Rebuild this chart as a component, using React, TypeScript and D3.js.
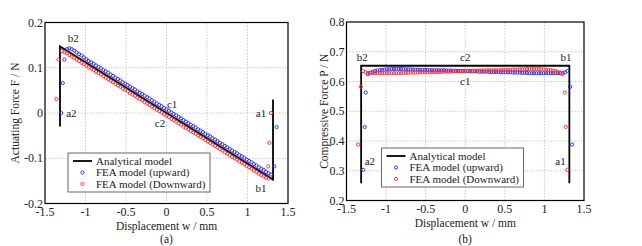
import * as d3 from "d3";

type Pt = [number, number];

// axis ticks
const dispTicks = [-1.5, -1, -0.5, 0, 0.5, 1, 1.5];
const forceTicks = [-0.2, -0.1, 0, 0.1, 0.2];
const compTicks = [0.2, 0.3, 0.4, 0.5, 0.6, 0.7, 0.8];

const legendNames = ["Analytical model", "FEA model (upward)", "FEA model (Downward)"];

// (a) actuating force F vs displacement w
const analyticalF: Pt[] = [[-1.315, -0.03], [-1.315, 0.147], [1.315, -0.147], [1.315, 0.03]];

const upwardF: Pt[] = [
  [-1.3, 0], [-1.28, 0.066], [-1.26, 0.118],
  [-1.23, 0.141], [-1.2, 0.143], [-1.17, 0.141], [-1.14, 0.138], [-1.11, 0.134], [-1.08, 0.13],
  [-1.05, 0.127], [-1.02, 0.123], [-0.99, 0.119], [-0.96, 0.115], [-0.93, 0.112], [-0.9, 0.109],
  [-0.87, 0.105], [-0.84, 0.102], [-0.81, 0.099], [-0.78, 0.095], [-0.75, 0.092], [-0.72, 0.089],
  [-0.69, 0.085], [-0.66, 0.082], [-0.63, 0.078], [-0.6, 0.075], [-0.57, 0.072], [-0.54, 0.068],
  [-0.51, 0.065], [-0.48, 0.062], [-0.45, 0.058], [-0.42, 0.055], [-0.39, 0.052], [-0.36, 0.048],
  [-0.33, 0.045], [-0.3, 0.042], [-0.27, 0.038], [-0.24, 0.035], [-0.21, 0.032], [-0.18, 0.028],
  [-0.15, 0.025], [-0.12, 0.021], [-0.09, 0.018], [-0.06, 0.015], [-0.03, 0.011], [0, 0.008],
  [0.03, 0.005], [0.06, 0.001], [0.09, -0.002], [0.12, -0.005], [0.15, -0.009], [0.18, -0.012],
  [0.21, -0.016], [0.24, -0.019], [0.27, -0.022], [0.3, -0.026], [0.33, -0.029], [0.36, -0.032],
  [0.39, -0.036], [0.42, -0.039], [0.45, -0.042], [0.48, -0.046], [0.51, -0.049], [0.54, -0.052],
  [0.57, -0.056], [0.6, -0.059], [0.63, -0.062], [0.66, -0.066], [0.69, -0.069], [0.72, -0.073],
  [0.75, -0.076], [0.78, -0.079], [0.81, -0.083], [0.84, -0.086], [0.87, -0.089], [0.9, -0.093],
  [0.93, -0.096], [0.96, -0.099], [0.99, -0.103], [1.02, -0.106], [1.05, -0.109], [1.08, -0.113],
  [1.11, -0.116], [1.14, -0.12], [1.17, -0.123], [1.2, -0.126], [1.23, -0.13], [1.26, -0.133],
  [1.29, -0.136], [1.33, -0.118], [1.36, -0.031],
];

const downwardF: Pt[] = [
  [-1.36, 0.031], [-1.335, 0.118],
  [-1.29, 0.137], [-1.26, 0.134], [-1.23, 0.132], [-1.2, 0.128], [-1.17, 0.125], [-1.14, 0.122],
  [-1.11, 0.118], [-1.08, 0.115], [-1.05, 0.111], [-1.02, 0.108], [-0.99, 0.105], [-0.96, 0.101],
  [-0.93, 0.098], [-0.9, 0.095], [-0.87, 0.091], [-0.84, 0.088], [-0.81, 0.085], [-0.78, 0.081],
  [-0.75, 0.078], [-0.72, 0.075], [-0.69, 0.071], [-0.66, 0.068], [-0.63, 0.064], [-0.6, 0.061],
  [-0.57, 0.058], [-0.54, 0.054], [-0.51, 0.051], [-0.48, 0.048], [-0.45, 0.044], [-0.42, 0.041],
  [-0.39, 0.038], [-0.36, 0.034], [-0.33, 0.031], [-0.3, 0.028], [-0.27, 0.024], [-0.24, 0.021],
  [-0.21, 0.018], [-0.18, 0.014], [-0.15, 0.011], [-0.12, 0.007], [-0.09, 0.004], [-0.06, 0.001],
  [-0.03, -0.003], [0, -0.006], [0.03, -0.009], [0.06, -0.013], [0.09, -0.016], [0.12, -0.019],
  [0.15, -0.023], [0.18, -0.026], [0.21, -0.03], [0.24, -0.033], [0.27, -0.036], [0.3, -0.04],
  [0.33, -0.043], [0.36, -0.046], [0.39, -0.05], [0.42, -0.053], [0.45, -0.056], [0.48, -0.06],
  [0.51, -0.063], [0.54, -0.066], [0.57, -0.07], [0.6, -0.073], [0.63, -0.076], [0.66, -0.08],
  [0.69, -0.083], [0.72, -0.087], [0.75, -0.09], [0.78, -0.093], [0.81, -0.097], [0.84, -0.1],
  [0.87, -0.103], [0.9, -0.107], [0.93, -0.11], [0.96, -0.113], [0.99, -0.117], [1.02, -0.12],
  [1.05, -0.123], [1.08, -0.127], [1.11, -0.13], [1.14, -0.134], [1.17, -0.137], [1.2, -0.14],
  [1.23, -0.143], [1.26, -0.145],
  [1.257, -0.118], [1.27, -0.066], [1.29, 0],
];

// (b) compressive force P vs displacement w
const analyticalP: Pt[] = [[-1.315, 0.258], [-1.315, 0.653], [1.315, 0.653], [1.315, 0.258]];

const upwardP: Pt[] = [
  [-1.29, 0.303], [-1.27, 0.447], [-1.257, 0.563],
  [-1.23, 0.624], [-1.2, 0.63], [-1.17, 0.633], [-1.14, 0.635], [-1.11, 0.637], [-1.08, 0.638],
  [-1.05, 0.639], [-1.02, 0.64], [-0.99, 0.641], [-0.96, 0.641], [-0.93, 0.642], [-0.9, 0.642],
  [-0.87, 0.642], [-0.84, 0.642], [-0.81, 0.642], [-0.78, 0.642], [-0.75, 0.641], [-0.72, 0.641],
  [-0.69, 0.641], [-0.66, 0.64], [-0.63, 0.64], [-0.6, 0.64], [-0.57, 0.639], [-0.54, 0.639],
  [-0.51, 0.639], [-0.48, 0.639], [-0.45, 0.638], [-0.42, 0.638], [-0.39, 0.638], [-0.36, 0.638],
  [-0.33, 0.638], [-0.3, 0.638], [-0.27, 0.638], [-0.24, 0.637], [-0.21, 0.637], [-0.18, 0.637],
  [-0.15, 0.636], [-0.12, 0.636], [-0.09, 0.636], [-0.06, 0.636], [-0.03, 0.635], [0, 0.635],
  [0.03, 0.635], [0.06, 0.634], [0.09, 0.634], [0.12, 0.634], [0.15, 0.634], [0.18, 0.633],
  [0.21, 0.633], [0.24, 0.633], [0.27, 0.633], [0.3, 0.632], [0.33, 0.632], [0.36, 0.632],
  [0.39, 0.632], [0.42, 0.632], [0.45, 0.631], [0.48, 0.631], [0.51, 0.631], [0.54, 0.631],
  [0.57, 0.631], [0.6, 0.63], [0.63, 0.63], [0.66, 0.63], [0.69, 0.63], [0.72, 0.629],
  [0.75, 0.629], [0.78, 0.629], [0.81, 0.628], [0.84, 0.628], [0.87, 0.628], [0.9, 0.628],
  [0.93, 0.628], [0.96, 0.628], [0.99, 0.628], [1.02, 0.628], [1.05, 0.628], [1.08, 0.628],
  [1.11, 0.628], [1.14, 0.628], [1.17, 0.628], [1.2, 0.628], [1.23, 0.629], [1.26, 0.631],
  [1.29, 0.635], [1.325, 0.582], [1.35, 0.388],
];

const downwardP: Pt[] = [
  [-1.353, 0.388], [-1.32, 0.582],
  [-1.29, 0.635], [-1.26, 0.631], [-1.23, 0.629], [-1.2, 0.628], [-1.17, 0.628], [-1.14, 0.628],
  [-1.11, 0.628], [-1.08, 0.628], [-1.05, 0.628], [-1.02, 0.628], [-0.99, 0.628], [-0.96, 0.628],
  [-0.93, 0.628], [-0.9, 0.628], [-0.87, 0.628], [-0.84, 0.628], [-0.81, 0.628], [-0.78, 0.629],
  [-0.75, 0.629], [-0.72, 0.629], [-0.69, 0.63], [-0.66, 0.63], [-0.63, 0.63], [-0.6, 0.63],
  [-0.57, 0.631], [-0.54, 0.631], [-0.51, 0.631], [-0.48, 0.631], [-0.45, 0.631], [-0.42, 0.632],
  [-0.39, 0.632], [-0.36, 0.632], [-0.33, 0.632], [-0.3, 0.632], [-0.27, 0.633], [-0.24, 0.633],
  [-0.21, 0.633], [-0.18, 0.633], [-0.15, 0.634], [-0.12, 0.634], [-0.09, 0.634], [-0.06, 0.634],
  [-0.03, 0.635], [0, 0.635], [0.03, 0.635], [0.06, 0.636], [0.09, 0.636], [0.12, 0.636],
  [0.15, 0.636], [0.18, 0.637], [0.21, 0.637], [0.24, 0.637], [0.27, 0.638], [0.3, 0.638],
  [0.33, 0.638], [0.36, 0.638], [0.39, 0.638], [0.42, 0.638], [0.45, 0.638], [0.48, 0.639],
  [0.51, 0.639], [0.54, 0.639], [0.57, 0.639], [0.6, 0.64], [0.63, 0.64], [0.66, 0.64],
  [0.69, 0.641], [0.72, 0.641], [0.75, 0.641], [0.78, 0.642], [0.81, 0.642], [0.84, 0.642],
  [0.87, 0.642], [0.9, 0.642], [0.93, 0.642], [0.96, 0.641], [0.99, 0.641], [1.02, 0.64],
  [1.05, 0.639], [1.08, 0.638], [1.11, 0.637], [1.14, 0.635], [1.17, 0.633], [1.2, 0.63],
  [1.23, 0.624],
  [1.257, 0.563], [1.27, 0.447], [1.29, 0.303],
];

// point labels, placed in data units
const notesA: [string, number, number][] = [
  ["b2", -1.15, 0.165], ["a2", -1.175, 0], ["c1", 0.07, 0.019],
  ["c2", -0.08, -0.022], ["a1", 1.167, 0], ["b1", 1.167, -0.166],
];
const notesB: [string, number, number][] = [
  ["b2", -1.3, 0.683], ["c2", 0, 0.683], ["b1", 1.274, 0.683],
  ["c1", 0, 0.602], ["a2", -1.204, 0.333], ["a1", 1.204, 0.333],
];

const BLUE = "#2424ff";
const RED = "#ff2a2a";
const FONT = "'Liberation Serif', 'Times New Roman', serif";

type Box = { left: number; right: number; top: number; bottom: number };

function Panel(props: {
  box: Box;
  yDomain: [number, number];
  yTicks: number[];
  yTitle: string;
  yTitleX: number;
  caption: string;
  analytical: Pt[];
  upward: Pt[];
  downward: Pt[];
  notes: [string, number, number][];
  legend: { x: number; y: number };
}) {
  const { box, yTicks, legend } = props;
  const x = d3.scaleLinear().domain([-1.5, 1.5]).range([box.left, box.right]);
  const y = d3.scaleLinear().domain(props.yDomain).range([box.bottom, box.top]);
  const line = d3.line<Pt>().x((d) => x(d[0])).y((d) => y(d[1]));
  const midX = (box.left + box.right) / 2;
  const midY = (box.top + box.bottom) / 2;
  const legendRows = [8, 19.5, 31];

  return (
    <g fontFamily={FONT} fill="#222">
      {/* grid */}
      {dispTicks.slice(1, -1).map((t) => (
        <line key={"gx" + t} x1={x(t)} x2={x(t)} y1={box.top} y2={box.bottom}
          stroke="#bdbdbd" strokeWidth={0.8} strokeDasharray="1.5,1.5" />
      ))}
      {yTicks.slice(1, -1).map((t) => (
        <line key={"gy" + t} x1={box.left} x2={box.right} y1={y(t)} y2={y(t)}
          stroke="#bdbdbd" strokeWidth={0.8} strokeDasharray="1.5,1.5" />
      ))}

      {/* data */}
      <path d={line(props.analytical) ?? ""} fill="none" stroke="#000" strokeWidth={1.8} />
      {props.upward.map((d, i) => (
        <circle key={"u" + i} cx={x(d[0])} cy={y(d[1])} r={1.6} fill="none" stroke={BLUE} strokeWidth={0.9} />
      ))}
      {props.downward.map((d, i) => (
        <circle key={"d" + i} cx={x(d[0])} cy={y(d[1])} r={1.6} fill="none" stroke={RED} strokeWidth={0.9} />
      ))}

      {/* frame */}
      <rect x={box.left} y={box.top} width={box.right - box.left} height={box.bottom - box.top}
        fill="none" stroke="#000" strokeWidth={1.2} />

      {/* ticks */}
      {dispTicks.map((t) => (
        <text key={"tx" + t} x={x(t)} y={box.bottom + 12.5} fontSize={12} textAnchor="middle">{String(t)}</text>
      ))}
      {yTicks.map((t) => (
        <text key={"ty" + t} x={box.left - 2} y={y(t)} dy="0.35em" fontSize={12} textAnchor="end">{String(t)}</text>
      ))}

      {/* titles */}
      <text x={midX} y={box.bottom + 26} fontSize={11.5} textAnchor="middle">Displacement w / mm</text>
      <text transform={`translate(${props.yTitleX},${midY}) rotate(-90)`} dy="0.35em" fontSize={11.5}
        textAnchor="middle">{props.yTitle}</text>
      <text x={midX} y={243} fontSize={11.5} textAnchor="middle">{props.caption}</text>

      {/* point labels */}
      {props.notes.map(([s, nx, ny]) => (
        <text key={s} x={x(nx)} y={y(ny)} dy="0.35em" fontSize={11} textAnchor="middle">{s}</text>
      ))}

      {/* legend */}
      <g transform={`translate(${legend.x},${legend.y})`}>
        <rect x={0} y={0} width={142} height={39} fill="#fff" stroke="#666" strokeWidth={1} />
        <line x1={5} x2={24} y1={legendRows[0]} y2={legendRows[0]} stroke="#000" strokeWidth={1.8} />
        <circle cx={14.5} cy={legendRows[1]} r={1.6} fill="none" stroke={BLUE} strokeWidth={0.9} />
        <circle cx={14.5} cy={legendRows[2]} r={1.6} fill="none" stroke={RED} strokeWidth={0.9} />
        {legendNames.map((n, i) => (
          <text key={n} x={28} y={legendRows[i]} dy="0.35em" fontSize={11}>{n}</text>
        ))}
      </g>
    </g>
  );
}

export default function App() {
  return (
    <svg width={642} height={246} style={{ position: "absolute", left: 0, top: 0, background: "#fff" }}>
      <Panel
        box={{ left: 45, right: 288, top: 22.5, bottom: 203.5 }}
        yDomain={[-0.2, 0.2]}
        yTicks={forceTicks}
        yTitle="Actuating Force F / N"
        yTitleX={15}
        caption="(a)"
        analytical={analyticalF}
        upward={upwardF}
        downward={downwardF}
        notes={notesA}
        legend={{ x: 68, y: 153 }}
      />
      <Panel
        box={{ left: 346.5, right: 584, top: 22, bottom: 200.5 }}
        yDomain={[0.2, 0.8]}
        yTicks={compTicks}
        yTitle="Compressive Force P / N"
        yTitleX={324}
        caption="(b)"
        analytical={analyticalP}
        upward={upwardP}
        downward={downwardP}
        notes={notesB}
        legend={{ x: 381.5, y: 148 }}
      />
    </svg>
  );
}
